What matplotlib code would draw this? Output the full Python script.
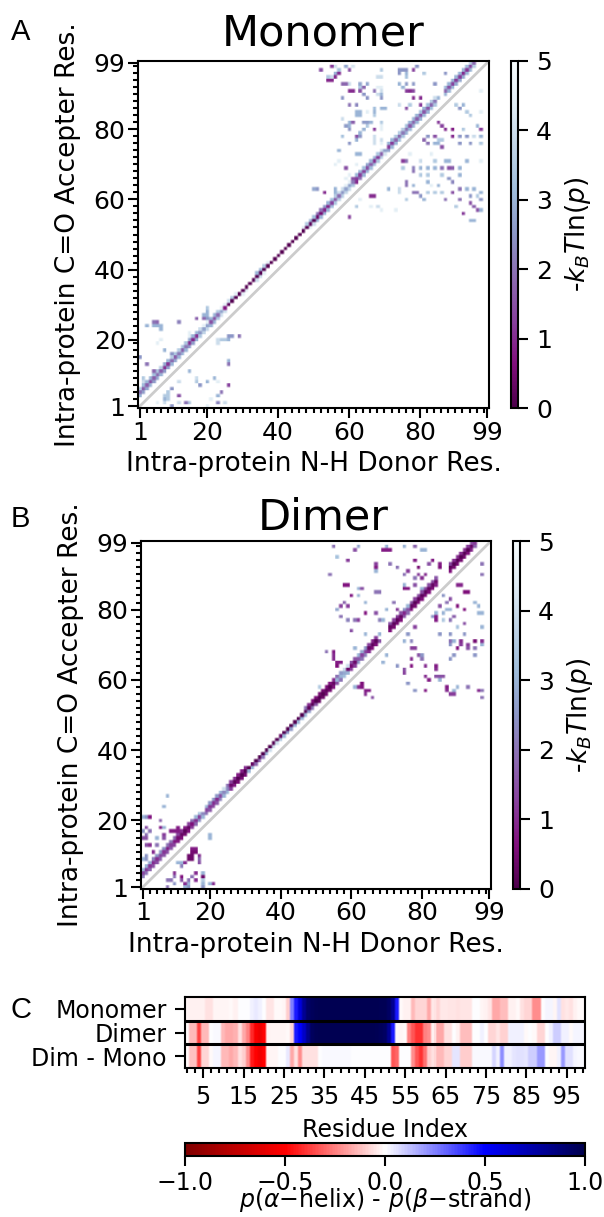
import numpy as np
import matplotlib
matplotlib.use("Agg")
import matplotlib.pyplot as plt
from matplotlib.cm import ScalarMappable
from matplotlib.colors import Normalize

N = 99
TICK_RES = [1, 20, 40, 60, 80, 99]
CB_TICKS = [0, 1, 2, 3, 4, 5]
HB_XLABEL = "Intra-protein N-H Donor Res."
HB_YLABEL = "Intra-protein C=O Accepter Res."
CB_LABEL = r"-$k_B T \ln(p)$"

# Energies along the helical diagonals, donor residue 1..95. 5 = no contact.
MONO_P3 = [3.0,2.6,2.8,3,2.6,2.8,3,2.6,2.6,3, 2.8,3,3,3,2.6,2.6,3,3.4,3.8,3.8, 3,3,3.4,4,4,
           5,5,5,5,4.5, 4.5,5,5,4,4, 4.5,5,5,5,5, 5,5,5,5,5, 5,5,5,4.5,4,
           3,3,3,3,3.2,3.4,3.6,3.6,3.8,3.8, 3.4,3.2,3,3,3,3.2,3.2,3.4,3.6,4.2,
           2.8,3,3,3.2,3.3,3,3,3,3,3, 3,3,3.2,3.4,5,5,3,3,3,2.8, 2.8,2.8,3,3,3.5]
MONO_P4 = [2.0,1.7,1.7,1.5,1.7,1.9,1.7,1.1,1.1,1.9, 1.7,2.1,1.7,2.1,1.0,.9,1.1,2.5,2.7,2.7,
           1.5,1.5,1.9,2.7,.7, .2,.1,.1,.1,.1, .1,.1,.1,.1,.1, .1,.1,.1,.1,.1,
           .1,.1,.1,.1,.1, .1,.1,.1,.2,.1, .4,.5,.9,.9,1.3, 1.7,1.9,2.5,2.7,2.7,
           2.1,1.9,1.2,1.3,1.5, 1.7,1.0,1.2,1.7,2.7, 1.2,1.2,1.8,1.9,2.1, 2.0,1.6,1.8,1.7,1.6,
           1.6,1.6,1.8,2.1,5, 5,1.8,1.5,1.3,1.2, 1.2,1.0,1.1,1.3,1.9]
MONO_P5 = [3.6,3.2,3,3,3.2,3.4,3.6,2.8,3,3.6, 3.4,3.6,3.4,3.4,2.8,3,3,4,4.5,4.5, 3,3,3.5,4.5,4.5,
           4,3.5,4.5,5,5, 5,5,5,3,3, 3.6,4.5,5,5,5, 5,5,5,5,5, 5,4.5,3.5,3,3.2,
           2,2,2.5,3,3.2, 3.6,4,4,4.5,4.5, 3.5,3,3,3.2,2.8, 3,3,3.4,4,5,
           3,3,3.5,3.6,3.6, 3.2,3,3,3,3.2, 3,3.2,3.6,4,5, 5,3.2,3,3,3, 3,3,3.2,3.6,5]

DIM_P3 = [2.2,2,1.8,1.5,1.5,1.7,1.6,1.5,1.6,1.3, .8,.6,.5,.7,1.2,1.8,2.4,3,2,1.6,
          1.4,1.6,2.2,3,3, 1.2,.8,.5,.5,.5, 3,3,1.8,1.8,2, 3,4,4,4,3.5,
          3,2.5,2.5,3,3, 3,3,2.5,2,1.5, .3,.4,.5,.5,.7, 1.5,2,3.2,3,1.2,
          1.2,2.5,2,2.2,1, .6,.6,1.5,5,5, .6,.5,.5,.6,1.5, 1.9,.6,.5,.6,.6,
          .6,.6,.6,.8,5, 5,5,.6,.5,.5, .5,.5,.6,.9,1.7]
DIM_P4 = [1.4,1.2,1.1,1.0,1.0,1.3,1.1,.8,1.2,.7, .5,.3,.2,.3,.6,1.0,1.3,2.3,1.3,1.1,
          1.0,1.0,1.4,2.3,2.3, .4,.2,.1,.1,.1, .1,.3,.05,.05,.05, .05,.05,.1,.1,.3,
          .1,.1,.05,.1,.1, .05,.1,.2,.1,.05, .05,.1,.2,.1,.3, 3,3,2.8,.4,.5,
          .4,1.6,1.3,1.3,.3, .2,.2,5,5,5, .3,.2,.2,.3,.9, 1.5,.25,.15,.2,.2,
          .2,.3,.3,.4,5, 5,5,.2,.1,.1, .1,.1,.1,.3,1.2]
DIM_P5 = [3,3,2.8,2.2,2.5,2.5,2.4,2,2,1.8, 1.3,1,.8,1.2,2,3,3.5,5,3,2.5,
          2.5,2.5,3,4,2, 1.2,1,.8,.8,1, 5,5,5,5,5, 5,5,5,5,5,
          5,5,5,5,5, 5,2,1,.6,.6, .5,.5,.6,.7,1, 2,2.6,4,4,1.5,
          1.5,3,2.8,2.5,1.2, .9,1.2,3,5,5, 1.5,1.2,1.2,1.6,2.5, 3,1.5,1.2,1.4,1.4,
          1.4,1.4,1.4,1.6,5, 5,5,1.3,1,1, 1,1,1.2,1.5,5]

# Off-diagonal contacts: (donor, acceptor, energy)
MONO_OFF = [
 (55,98,1.2),(56,98,4),(59,98,2.8),(61,98,4.2),(79,98,2.5),
 (52,97,1.5),(57,97,3.3),(60,97,1.5),(69,97,3.5),(74,97,2.5),(75,97,2.5),(76,97,2.5),(78,97,1.3),
 (56,96,3),(57,96,1),(74,96,2.5),(76,96,3),(81,96,3.5),(87,96,2.5),
 (54,95,3.5),(55,95,4),(56,95,1),(68,95,4),(69,95,4),(76,95,3.3),
 (54,94,.9),(55,94,.9),
 (58,93,1.8),(59,93,1.8),(60,93,4),(63,93,2.8),(65,93,2.8),(74,93,3),(76,93,2.6),(78,93,2.6),(84,93,2.5),
 (63,92,3.5),(64,92,1.8),(68,92,4.5),(69,92,4.5),(75,92,3),
 (60,91,1),(61,91,1),(63,91,1.5),(67,91,2),(69,91,4),(76,91,1.2),(77,91,1),(78,91,1.4),(97,91,4.5),
 (64,90,2.5),(68,90,4),(69,90,3),
 (58,89,2.5),(65,89,2.5),(69,89,2.5),(78,89,1),(80,89,1),(85,89,3),
 (60,87,2),(62,87,2.3),(74,87,4),(77,87,3.5),(80,87,1.2),(90,87,3.5),(92,87,3),
 (67,86,3.2),(69,86,3),(70,86,3),(76,86,1.5),(91,86,2.5),
 (62,85,3),(63,85,3),(65,85,4.5),(67,85,3),(93,85,3.5),(97,85,4.5),
 (62,84,3),(63,84,3),(67,84,3.5),(94,84,3.5),
 (58,83,4),
 (60,82,3),(61,82,1.7),(64,82,2.6),(65,82,2.6),(66,82,3),(69,82,3.5),(85,82,1.2),
 (59,81,2.6),(60,81,3),(65,81,3.5),(69,81,4.5),(86,81,1.3),(96,81,3),
 (60,80,2.5),(64,80,3),(67,80,1.2),(69,80,4.5),(87,80,1),(89,80,.8),(92,80,3.5),(97,80,1.2),
 (63,79,3),
 (58,78,3.3),(62,78,1.5),(63,78,2.5),(67,78,4),(82,78,2.5),(84,78,1.5),(89,78,1),(91,78,2.5),(93,78,2.5),(95,78,4),(97,78,3),
 (62,77,3),(67,77,4),(69,77,4),(81,77,1.8),(85,77,3.5),(86,77,3.5),
 (60,76,2.5),(67,76,4),(69,76,4.5),(82,76,2),(84,76,3),(85,76,3),(91,76,2.5),(94,76,2.5),(97,76,3.5),
 (86,75,1.5),(57,74,3),
 (62,73,3),(63,73,3),(77,73,4.5),(83,73,4.5),
 (57,71,4.5),(75,71,1.2),(76,71,2),(80,71,4),(84,71,3.5),(87,71,3),(88,71,3),(93,71,3),(97,71,4.5),
 (56,70,4.5),(62,70,4.5),
 (59,69,1.5),(75,69,3.5),(78,69,2.2),(80,69,3),(82,69,3),(84,69,3),(86,69,2),(88,69,1.5),(89,69,1.7),(91,69,3),
 (78,68,2),
 (60,67,4.5),(80,67,3.5),(82,67,3.5),(86,67,3.5),(91,67,3),
 (59,66,4.5),(61,66,1.5),(62,66,1.2),(63,66,2),(88,66,2.5),
 (62,65,1),(76,65,2),(82,65,3),(89,65,2.3),
 (76,64,2),(78,64,3),(83,64,4.5),(85,64,3),
 (50,63,2.8),(51,63,2.5),(56,63,3),(71,63,3),(74,63,4),(91,63,2),(93,63,3),(95,63,3),
 (53,62,1),(56,62,3),(74,62,4),(78,62,2),(79,62,2),(82,62,3.5),(84,62,3.5),(86,62,3.5),(89,62,1.5),(97,62,3),
 (66,61,1),(67,61,1),(80,61,2.5),(94,61,2.5),(96,61,3.5),
 (63,60,4.5),(76,60,3.5),(81,60,3),(87,60,2),(91,60,2),(97,60,2.5),
 (94,59,1.5),
 (62,58,3.5),(66,58,4.5),(68,58,4),(90,58,3.5),(95,58,1.7),
 (69,57,4.5),(73,57,4.5),(96,57,1.5),(97,57,3),
 (92,56,1.2),(60,55,1.3),(94,54,3),(95,54,3),
 (5,25,2),(6,25,1.8),(12,25,2.2),(3,24,3),(5,24,3),(6,24,3),(7,24,3),(7,23,3),
 (17,26,1.7),(19,26,1.8),(20,26,2.5),(19,27,3),(20,27,3),(20,28,3),(20,29,3.5),
 (15,22,4.5),(26,21,2.5),(27,21,2.5),(29,21,2),(15,21,4.5),
 (7,20,4.5),(23,20,4),(24,20,3.5),(25,20,3.5),(26,20,3),(6,19,4.5),(23,19,4),
 (8,17,3),(10,16,2.5),(1,15,2.5),(26,14,3),(3,13,2),(26,13,2),
 (5,11,1.8),(15,11,3),(2,9,3.5),(17,9,4),(22,9,3),(2,8,4),(12,8,4),(17,8,3.5),(20,8,3),(23,8,4.5),
 (18,7,2.5),(26,7,1.3),(10,6,2.5),(9,5,3.5),(24,5,2),(8,4,3.5),(9,4,3.5),(12,4,1.5),(23,4,3),
 (8,3,3),(9,3,3.5),(21,3,4.5),(6,2,4.5),(8,2,4),(12,2,4),(14,2,2),(15,2,3.5),(23,2,2.3),(25,2,4),
 (10,1,2.5),(20,1,4.5),
]

DIM_OFF = [
 (55,98,2),(62,98,2.8),(70,98,3),(75,98,3),(78,98,1.8),
 (61,97,1.5),(69,97,.8),(70,97,.8),(71,97,.8),(80,97,3),(81,97,3),
 (56,95,3.3),(59,94,1.2),(78,94,.8),(83,94,.8),
 (67,93,1.2),(71,93,2),(82,93,1.5),(85,93,.8),(97,93,2),
 (67,92,.8),(73,92,2),(79,92,.5),(85,92,.6),(67,91,3),(76,91,1.2),
 (54,90,2),(75,90,2),(79,90,1.2),(81,90,1),(97,90,2),(78,89,2),(80,89,1),
 (58,87,.7),(59,87,.7),(75,87,3),(78,87,1.5),(90,87,.9),(91,87,.9),
 (62,86,3),(63,86,1.5),(75,86,.7),(76,86,.7),(80,86,3),
 (67,85,2),(68,85,2),(92,85,.6),(93,85,.6),
 (60,84,.8),(62,84,3),(86,84,2.5),(88,83,1.5),
 (58,82,1.8),(64,82,3),(72,82,2),(87,82,2),(95,82,3),
 (57,81,1.3),(59,81,1.2),(85,81,1.5),(90,81,.6),(96,81,3),
 (56,80,2.8),(70,80,3),(73,80,1.2),(87,80,3),(88,80,3),(92,80,.7),
 (64,79,.7),(67,79,1.5),(74,79,1.5),(84,79,3),(86,79,3),(96,79,3),(97,79,3),
 (57,78,2),(83,78,2.5),(84,78,.8),(89,78,1.7),
 (59,77,2.2),(61,77,2),(62,77,1.2),(68,77,2.2),(69,77,3),(84,77,.8),(86,77,3.5),(88,77,2),
 (92,76,1.5),(78,75,1.3),(90,75,3.3),(97,75,3),(60,74,1.5),
 (64,73,3),(68,73,3),(76,73,2.5),(85,73,2.5),(88,73,2.5),(92,73,2.5),
 (75,71,3),(77,71,2.3),(88,71,2),(89,71,3),(91,71,1),(95,71,.5),(97,71,1),
 (88,70,2.5),(91,70,1.2),(93,70,1.2),(97,70,3),
 (61,69,3),(77,69,1.2),(78,69,1.2),(90,69,.6),(93,69,1.5),(95,69,2),
 (53,68,2),(55,68,.8),(55,67,1),(70,67,3),(79,67,1.5),(80,67,2.5),(89,67,2.5),(95,67,2.5),
 (55,66,1),(77,66,1),(80,66,2),(88,66,2.5),
 (56,65,.8),(57,65,.8),(69,65,3),
 (56,64,.6),(73,64,2.5),(77,64,.7),(81,64,1),(84,64,.8),
 (75,63,1.5),(84,63,1),(75,62,1.3),
 (81,61,1),(84,61,1.5),(85,61,1.5),(86,61,1.5),(82,60,.8),(85,60,3),
 (63,59,.6),(76,59,2.5),
 (51,58,3.5),(61,58,3),(62,58,1),(63,58,.7),(87,58,.8),(90,58,3),(93,58,2),
 (64,57,.8),(65,57,.8),(78,57,2.5),(81,57,.8),(87,57,1),(89,57,3),(96,57,1),(97,57,2),
 (64,56,1),(88,56,1.2),(89,56,1.2),(66,55,1.5),(97,55,2),
 (8,27,3),(7,24,3),(1,21,3),(2,21,2.5),(3,21,.7),(6,20,1.8),
 (2,18,1.5),(6,18,.8),(7,18,3),(11,18,.8),
 (1,17,2.5),(3,17,2),(9,17,.8),(10,17,.8),(11,17,.8),
 (2,16,2),(7,16,1.2),(1,15,1.5),(2,15,1.5),(5,15,3),(7,15,1.5),(20,16,3),(20,15,3),
 (2,13,1.5),(3,13,1),(5,13,2),(4,11,1),(2,10,2.5),(1,9,3),(2,9,2.5),
 (15,12,.8),(16,12,.8),(15,11,.5),(16,11,.5),(14,10,.4),(15,10,.4),(17,10,1),
 (14,9,.4),(15,9,.4),(17,9,1.8),(11,8,3),(12,8,3),(13,8,1),(17,8,1.5),(12,7,2.2),
 (10,5,1),(16,5,1),(18,5,3),(10,4,2),(12,4,.7),(15,4,2),(18,4,.4),
 (8,3,2),(9,3,2),(12,3,1.5),(14,3,2),(16,3,1),(18,3,3.5),
 (10,2,2.5),(13,2,1),(14,2,3),(18,2,3),(20,2,3),(21,2,1),
 (8,1,2),(13,1,3),(14,1,2.5),(18,1,2.5),
]

# Secondary structure per residue 1..99
SS_MONO = [-.02,-.03,-.03,-.03,-.03,-.06,-.06,-.02,-.02,-.02, -.02,-.01,-.03,0,0,0,.03,.04,.03,0,
           -.05,-.05,-.01,-.01,-.02,-.1,.25,.45,.6,.8, .92,.96,.97,.98,.98,.98,.98,.98,.98,.98,
           .98,.98,.98,.98,.98,.98,.98,.98,.97,.97, .93,.8,.45,-.01,-.03,-.03,-.14,-.08,-.08,-.08,
           -.17,-.04,-.08,-.04,-.04,-.05,-.05,-.06,-.05,-.05, -.05,0,0,-.02,-.03,-.05,-.17,-.17,-.13,-.13,
           -.03,-.03,-.01,-.06,-.08,-.08,-.22,-.22,0,.02, .02,-.02,.06,-.06,-.04,-.06,-.03,-.01,-.01]
SS_DIM = [-.01,-.14,-.14,-.37,-.14,-.14,0,.01,.01,-.14, -.17,-.17,-.15,-.06,-.17,-.25,-.42,-.52,-.57,-.5,
          -.03,-.02,-.02,-.02,-.02,-.01,-.08,.45,.5,.65, .82,.95,.97,.98,.98,.98,.98,.98,.98,.98,
          .98,.98,.98,.98,.98,.98,.98,.97,.96,.93, .8,.45,-.01,-.02,-.01,-.25,-.33,-.4,-.4,-.25,
          -.22,-.03,-.17,-.17,-.06,-.06,0,-.03,-.13,-.13, -.13,0,0,.03,0,-.08,-.08,-.05,-.09,-.09,
          .03,.03,.03,.03,-.01,0,-.01,-.08,-.08,0, .03,.1,.1,.03,.03,-.01,.02,.02,.02]
SS_DIFF = [-.01,-.12,-.12,-.37,-.08,-.08,-.01,.02,.02,-.14, -.14,-.17,-.14,-.06,-.1,-.22,-.45,-.5,-.55,-.5,
           -.02,-.02,-.02,0,0,.04,-.17,-.06,-.22,-.06, -.06,-.06,-.06,0,.01,.01,.01,.01,.01,.01,
           .01,0,0,0,0,0,0,0,0,0, 0,-.33,-.3,0,0,0,-.22,-.33,-.4,-.28,
           -.1,-.06,-.14,-.14,-.08,-.08,.05,.05,-.1,-.1, -.1,.01,.01,.01,.01,.01,.08,.03,.22,.03,
           .03,.05,.06,.06,.05,.1,.1,.2,.2,0, -.02,-.02,.03,.2,.06,.06,.02,.01,.01]
SS_ROWS = ["Monomer", "Dimer", "Dim - Mono"]
SS_TICKS = [5, 15, 25, 35, 45, 55, 65, 75, 85, 95]
SS_CB_TICKS = [-1.0, -0.5, 0.0, 0.5, 1.0]

W, H = 604, 1217
plt.rcParams.update({"font.family": "DejaVu Sans", "font.size": 17,
                     "mathtext.fontset": "dejavusans"})
fig = plt.figure(figsize=(W / 100, H / 100), dpi=100)


def place(x0, y0, x1, y1):
    return fig.add_axes([x0 / W, 1 - y1 / H, (x1 - x0) / W, (y1 - y0) / H])


def matrix(p3, p4, p5, off):
    m = np.full((N, N), np.nan)
    for k, arr in ((3, p3), (4, p4), (5, p5)):
        for i, v in enumerate(arr):
            if v < 5 and i + k < N:
                m[i + k, i] = v
    for d, a, v in off:
        m[a - 1, d - 1] = v
    return m


def soft_rgb(values, cmap, norm, sub=4, both=True):
    """Colour the cells, then soften their edges by about one screen pixel."""
    rgb = cmap(norm(np.ma.masked_invalid(values)))[..., :3]
    rgb = np.repeat(rgb, sub, axis=1)
    kernel = np.array([1, 2, 1]) / 4
    axes = [1]
    if both:
        rgb = np.repeat(rgb, sub, axis=0)
        axes.append(0)
    for ax_i in axes:
        rgb = np.apply_along_axis(lambda c: np.convolve(c, kernel, mode="same"), ax_i, rgb)
        if ax_i == 1:
            rgb[:, 0] = rgb[:, 1]
            rgb[:, -1] = rgb[:, -2]
        else:
            rgb[0] = rgb[1]
            rgb[-1] = rgb[-2]
    return np.clip(rgb, 0, 1)


hb_cmap = plt.get_cmap("BuPu_r").with_extremes(bad=(1, 1, 1, 1))
hb_norm = Normalize(0, 5)
ss_cmap = plt.get_cmap("seismic_r")
ss_norm = Normalize(-1, 1)


def hb_panel(box, cbox, m, title, title_y):
    ax = place(*box)
    ax.imshow(soft_rgb(m, hb_cmap, hb_norm), origin="lower", extent=(0, N, 0, N),
              aspect="auto", interpolation="nearest")
    ax.plot([0, N], [0, N], color="0.8", lw=2)
    ax.set_xlim(0, N)
    ax.set_ylim(0, N)
    pos = [t - 0.5 for t in TICK_RES]
    minor = [r - 0.5 for r in list(range(3, 20, 2)) + list(range(22, 99, 2))]
    for axis in (ax.xaxis, ax.yaxis):
        axis.set_ticks(pos)
        axis.set_ticklabels([str(t) for t in TICK_RES])
        axis.set_ticks(minor, minor=True)
    ax.tick_params(which="major", length=7, width=1.5, pad=2, labelsize=18)
    ax.tick_params(which="minor", length=3.5, width=1.5)
    for s in ax.spines.values():
        s.set_linewidth(1.5)
    ax.set_xlabel(HB_XLABEL, labelpad=5, fontsize=19)
    ax.set_ylabel(HB_YLABEL, labelpad=9, fontsize=19)
    fig.text(323 / W, 1 - title_y / H, title, fontsize=31, ha="center", va="center")
    cax = place(*cbox)
    cb = fig.colorbar(ScalarMappable(hb_norm, hb_cmap), cax=cax, ticks=CB_TICKS)
    cb.ax.tick_params(length=7, width=1.5, pad=6, labelsize=18)
    cb.outline.set_linewidth(1.5)
    cb.set_label(CB_LABEL, labelpad=8, fontsize=19)


hb_panel((138, 61, 489, 408), (511, 61, 518, 408),
         matrix(MONO_P3, MONO_P4, MONO_P5, MONO_OFF), "Monomer", 33)
hb_panel((141, 541, 491, 889), (513, 541, 520, 889),
         matrix(DIM_P3, DIM_P4, DIM_P5, DIM_OFF), "Dimer", 517)

ax = place(185, 997, 585, 1068)
ss = np.array([SS_MONO, SS_DIM, SS_DIFF])
ax.imshow(soft_rgb(ss, ss_cmap, ss_norm, both=False), extent=(0, N, 3, 0), aspect="auto",
          interpolation="nearest")
ax.set_ylim(3, 0)
ax.set_xlim(0, N)
ax.set_yticks([0.5, 1.5, 2.5], SS_ROWS)
ax.set_xticks([t - 0.5 for t in SS_TICKS], [str(t) for t in SS_TICKS])
ax.set_xticks([r - 0.5 for r in range(1, 100, 2)], minor=True)
ax.tick_params(which="major", length=7, width=1.5, pad=5)
ax.tick_params(axis="y", length=7, width=1.5, pad=6)
ax.tick_params(which="minor", length=3.5, width=1.5)
ax.hlines([1, 2], 0, N, color="k", lw=2.2)
for s in ax.spines.values():
    s.set_linewidth(1.5)
ax.set_xlabel("Residue Index", labelpad=7)

cax = place(185, 1143, 585, 1156)
cb = fig.colorbar(ScalarMappable(ss_norm, ss_cmap), cax=cax, orientation="horizontal",
                  ticks=SS_CB_TICKS)
cb.ax.tick_params(length=7, width=1.5, pad=4)
cb.outline.set_linewidth(1.5)
cb.set_label(r"$p(\alpha\mathrm{-helix})$ - $p(\beta\mathrm{-strand})$", labelpad=-7)

for label, x, y in (("A", 11, 32), ("B", 11, 519), ("C", 11, 1010)):
    fig.text(x / W, 1 - y / H, label, family="Liberation Sans", fontsize=21,
             ha="left", va="center")

fig.savefig("out.png", dpi=100)
